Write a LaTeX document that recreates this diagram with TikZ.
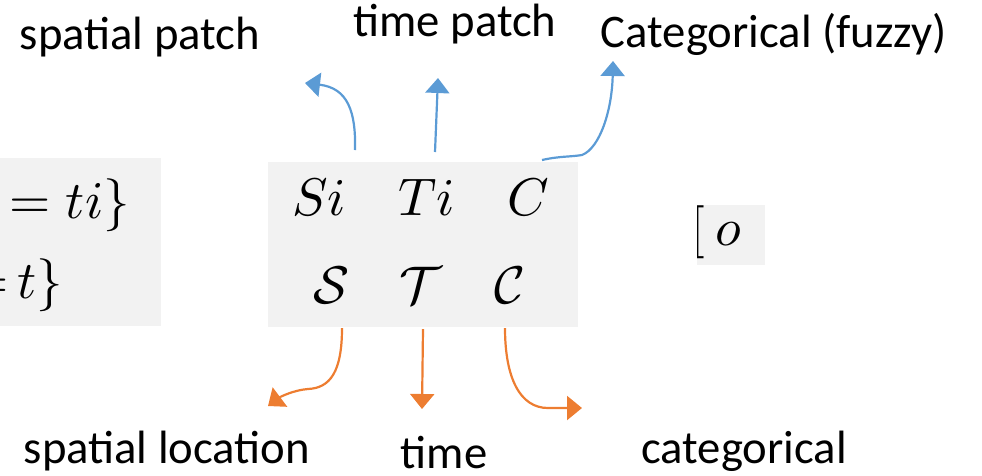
\documentclass[tikz,border=0pt]{standalone}
\usepackage{graphicx}
\usepackage[no-math]{fontspec}
\newfontfamily\labelfont{Carlito}
\usetikzlibrary{arrows.meta}
\definecolor{panelgray}{HTML}{F2F2F2}
\definecolor{patchblue}{HTML}{5B9BD5}
\definecolor{valorange}{HTML}{ED7D31}
% maths at ten point, enlarged
\newcommand{\bigmath}[1]{\scalebox{5.3}{$#1$}}
\begin{document}
\begin{tikzpicture}[x=1pt,y=-1pt,
  sym/.style={anchor=base,inner sep=0pt},
  lbl/.style={anchor=base,inner sep=0pt,font=\labelfont\fontsize{46.7}{56}\selectfont},
  patcharrow/.style={draw=patchblue,line width=2.2pt,-{Triangle[length=15pt,width=24pt]}},
  valarrow/.style={draw=valorange,line width=2.2pt,-{Triangle[length=15pt,width=24pt]}}]
\useasboundingbox (0,0) rectangle (982,475);

% grey panels
\fill[panelgray] (0,158) rectangle (161,326);
\fill[panelgray] (268,162) rectangle (578,327);
\fill[panelgray] (697,205) rectangle (765,265);

% left panel, cut off at its edges
\begin{scope}
  \clip (0,158) rectangle (161,326);
  \node[sym,anchor=base east] (leftA) at (130,218) {\bigmath{=ti\}}};
  \node[sym,anchor=base east] (leftB) at (63,298) {\bigmath{{=}\mkern3mu t\}}};
\end{scope}

% right panel, cut off at its edges
\begin{scope}
  \clip (697,205) rectangle (765,265);
  \node[sym,anchor=base east] (rightsym) at (741,245) {\bigmath{[\mkern3.5mu o}};
\end{scope}

% symbols of the middle panel
\node[sym] (si) at (319,215) {\bigmath{Si}};
\node[sym] (ti) at (427,215) {\bigmath{Ti}};
\node[sym] (c)  at (528,215) {\bigmath{C}};
\node[sym] (calS) at (332,303) {\bigmath{\mathcal{S}}};
\node[sym] (calT) at (421,303) {\bigmath{\mathcal{T}}};
\node[sym] (calC) at (510,303) {\bigmath{\mathcal{C}}};

% labels
\node[lbl] (spatialpatch) at (140,49) {spatial patch};
\node[lbl] (timepatch) at (455,36) {time patch};
\node[lbl] (catfuzzy) at (774,47) {Categorical (fuzzy)};
\node[lbl] (spatialloc) at (167,463) {spatial location};
\node[lbl] (timelbl) at (444,468) {time};
\node[lbl] (catlbl) at (744,463) {categorical};

% arrow end points
\coordinate (siTop) at (355,150);   \coordinate (siEnd) at (305,83);
\coordinate (tiTop) at (435,152);   \coordinate (tiEnd) at (438,78);
\coordinate (cTop) at (542,160);    \coordinate (cEnd) at (613,61);
\coordinate (calSBot) at (342,328); \coordinate (calSEnd) at (268,406);
\coordinate (calTBot) at (423,329); \coordinate (calTEnd) at (422,409);
\coordinate (calCBot) at (505,328); \coordinate (calCEnd) at (582,408);

% patch-level arrows (blue)
\draw[patcharrow] (siTop) .. controls (356,112) and (348,88) .. (siEnd);
\draw[patcharrow] (tiTop) -- (tiEnd);
\draw[patcharrow] (cTop) .. controls (560,156) and (570,157) .. (582,155)
  .. controls (600,148) and (612,110) .. (cEnd);

% value-level arrows (orange)
\draw[valarrow] (calSBot) .. controls (342,372) and (330,388) .. (308,389)
  .. controls (294,390) and (280,397) .. (calSEnd);
\draw[valarrow] (calTBot) -- (calTEnd);
\draw[valarrow] (calCBot) .. controls (505,378) and (520,408) .. (548,408) -- (calCEnd);
\end{tikzpicture}
\end{document}
